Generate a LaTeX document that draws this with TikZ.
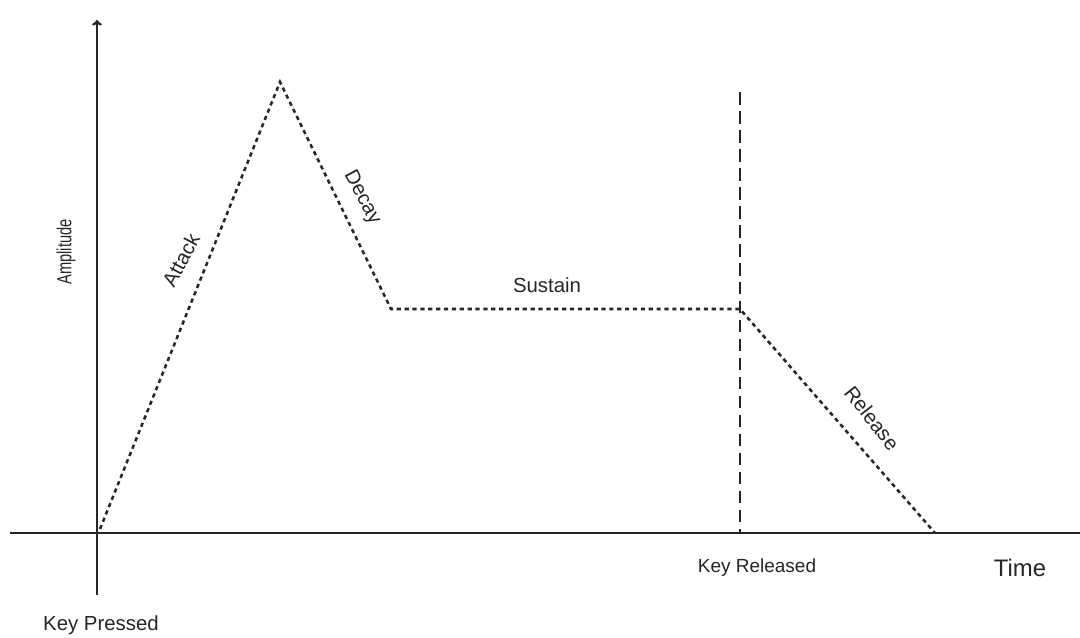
\documentclass[tikz,border=0pt]{standalone}
\usepackage{fontspec}
\setmainfont{Liberation Sans}
\usetikzlibrary{arrows.meta}
\begin{document}
\begin{tikzpicture}[x=0.025cm,y=-0.025cm,
  axis/.style={line width=1.6pt,black!85},
  env/.style={line width=1.8pt,black!85,dash pattern=on 3pt off 2.6pt},
  keyline/.style={line width=2pt,black!85,dash pattern=on 9pt off 4.5pt},
  lbl/.style={font=\fontsize{14.5}{16}\selectfont,inner sep=0pt,text=black!85}]
\useasboundingbox[fill=white] (0,0) rectangle (1080,638);
% axes
\coordinate (ytop) at (97,20);
\coordinate (ybot) at (97,595);
\coordinate (xl) at (10,533);
\coordinate (xr) at (1080,533);
\draw[axis,-{To[length=4pt,width=7pt]}] (ybot) -- (ytop);
\draw[axis] (xl) -- (xr);
% envelope points
\coordinate (o) at (100,529);
\coordinate (peak) at (280,82);
\coordinate (sus) at (391,309);
\coordinate (rel) at (740,309);
\coordinate (end) at (935,533);
\coordinate (ktop) at (740,92);
\coordinate (kbot) at (740,533);
\draw[env] (o) -- (peak) -- (sus) -- (rel) -- (end);
\draw[keyline] (ktop) -- (kbot);
% labels
\node[lbl,rotate=90] (amp) at (66,252) {\scalebox{0.72}[1]{Amplitude}};
\node[lbl,rotate=62] (att) at (181,260) {Attack};
\node[lbl,rotate=-62] (dec) at (362,198) {Decay};
\node[lbl] (sust) at (547,285) {Sustain};
\node[lbl,rotate=-52] (rls) at (872,418) {Release};
\node[lbl,font=\fontsize{13.5}{16}\selectfont] (kr) at (757,568) {Key Released};
\node[lbl,font=\fontsize{17}{19}\selectfont] (time) at (1020,568) {Time};
\node[lbl] (kp) at (101,625) {Key Pressed};
\end{tikzpicture}
\end{document}
